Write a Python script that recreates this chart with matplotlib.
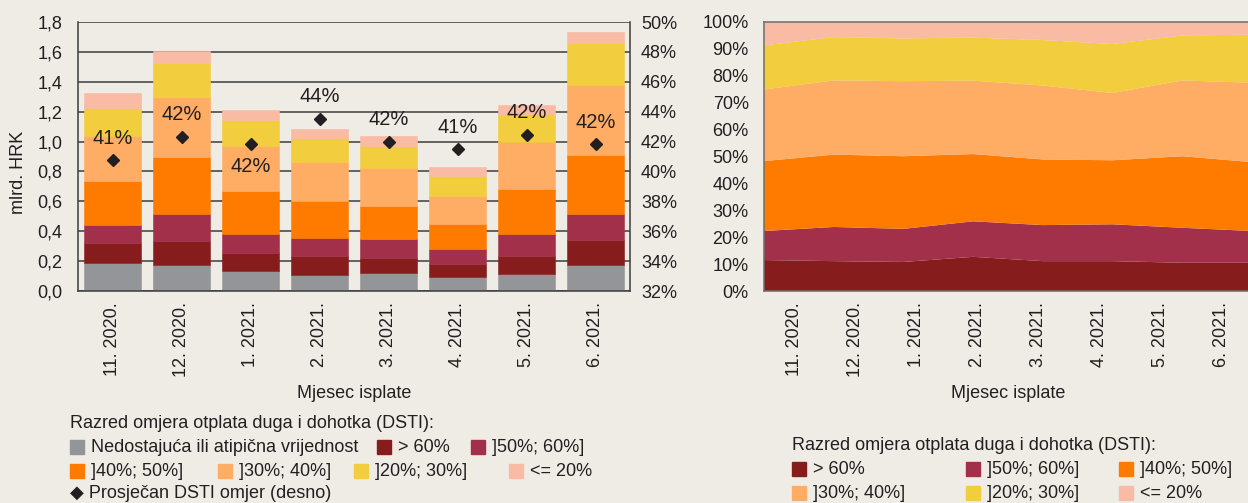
import numpy as np
import matplotlib
matplotlib.use('Agg')
import matplotlib.pyplot as plt
from matplotlib import font_manager
from matplotlib.patches import Rectangle

# pick a narrow font if one is installed
names = {f.name for f in font_manager.fontManager.ttflist}
main_font = 'Liberation Sans Narrow' if 'Liberation Sans Narrow' in names else 'Liberation Sans'
plt.rcParams['font.family'] = [main_font, 'DejaVu Sans']

BG = '#efece6'
TXT = '#231f20'
plt.rcParams['text.color'] = TXT
plt.rcParams['axes.labelcolor'] = TXT
plt.rcParams['xtick.color'] = TXT
plt.rcParams['ytick.color'] = TXT

months = ['11. 2020.', '12. 2020.', '1. 2021.', '2. 2021.',
          '3. 2021.', '4. 2021.', '5. 2021.', '6. 2021.']

# left chart: amounts in bn HRK by DSTI class
missing = [0.185, 0.171, 0.134, 0.105, 0.122, 0.096, 0.114, 0.174]
gt60 = [0.133, 0.161, 0.118, 0.127, 0.101, 0.082, 0.120, 0.165]
r50_60 = [0.121, 0.180, 0.131, 0.124, 0.124, 0.100, 0.145, 0.178]
r40_50 = [0.298, 0.386, 0.287, 0.245, 0.223, 0.172, 0.303, 0.396]
r30_40 = [0.301, 0.400, 0.301, 0.263, 0.250, 0.187, 0.318, 0.466]
r20_30 = [0.189, 0.230, 0.176, 0.163, 0.153, 0.134, 0.187, 0.280]
le20 = [0.100, 0.078, 0.062, 0.055, 0.063, 0.062, 0.060, 0.074]

# average DSTI (right axis, %)
avg_dsti = [40.75, 42.31, 41.82, 43.54, 41.98, 41.47, 42.47, 41.82]
dsti_labels = ['41%', '42%', '42%', '44%', '42%', '41%', '42%', '42%']

# right chart: shares in %
share_gt60 = [11.5, 11.1, 10.8, 12.7, 11.1, 11.1, 10.5, 10.5]
share_50_60 = [10.8, 12.7, 12.3, 13.2, 13.4, 13.7, 13.0, 11.8]
share_40_50 = [26.0, 26.9, 27.0, 25.0, 24.4, 23.8, 26.6, 25.6]
share_30_40 = [26.6, 27.6, 27.9, 27.3, 27.5, 25.0, 28.2, 29.5]
share_20_30 = [16.4, 16.1, 15.9, 16.0, 16.9, 18.2, 16.7, 17.9]
share_le20 = [8.7, 5.6, 6.1, 5.8, 6.7, 8.2, 5.0, 4.7]

labels = ['Nedostajuća ili atipična vrijednost', '> 60%', ']50%; 60%]',
          ']40%; 50%]', ']30%; 40%]', ']20%; 30%]', '<= 20%']
colors = ['#939598', '#861c1c', '#a3304a', '#ff7b00', '#ffad65', '#f2cd3e', '#f9bba3']

W, H = 1248, 503
FS = 13
fig = plt.figure(figsize=(W / 100, H / 100), dpi=100, facecolor=BG)


def ax_rect(left, top, right, bottom):
    return [left / W, 1 - bottom / H, (right - left) / W, (bottom - top) / H]


# ---------- left chart ----------
ax = fig.add_axes(ax_rect(78, 22, 630, 291), facecolor=BG)
x = np.arange(len(months))
bottom = np.zeros(len(months))
for vals, c in zip([missing, gt60, r50_60, r40_50, r30_40, r20_30, le20], colors):
    ax.bar(x, vals, 0.84, bottom=bottom, color=c, edgecolor=c, lw=0.4, zorder=2)
    bottom += np.array(vals)

ax.set_xlim(-0.5, 7.5)
ax.set_ylim(0, 1.8)
ax.set_yticks(np.arange(0, 1.81, 0.2))
ax.set_yticklabels([f'{v:.1f}'.replace('.', ',') for v in np.arange(0, 1.81, 0.2)])
ax.yaxis.grid(True, color='#3c3c3c', lw=1.1, zorder=1)
ax.set_axisbelow(True)
ax.set_xticks(x)
ax.set_xticklabels(months, rotation=90)
ax.tick_params(length=0, labelsize=FS, pad=8)
ax.tick_params(axis='y', pad=11)
ax.set_xlabel('Mjesec isplate', fontsize=FS, labelpad=6)
ax.set_ylabel('mlrd. HRK', fontsize=FS)
ax.yaxis.set_label_coords(-0.092, 0.44)
for s in ['left', 'bottom', 'right']:
    ax.spines[s].set_color('#3c3c3c')
    ax.spines[s].set_linewidth(1.1)
ax.spines['top'].set_visible(False)

ax2 = ax.twinx()
ax2.set_ylim(32, 50)
ax2.set_yticks(np.arange(32, 51, 2))
ax2.set_yticklabels([f'{v}%' for v in range(32, 51, 2)])
ax2.tick_params(length=0, labelsize=FS, pad=8)
for s in ax2.spines.values():
    s.set_visible(False)
ax2.plot(x, avg_dsti, linestyle='none', marker='D', ms=6.5, color='#231f20', zorder=5)
for i, (v, lab) in enumerate(zip(avg_dsti, dsti_labels)):
    off = -16 if i == 2 else 16
    ax2.annotate(lab, (i, v), xytext=(0, off), textcoords='offset points',
                 ha='center', va='center', fontsize=FS + 1.5)

# ---------- right chart ----------
axr = fig.add_axes(ax_rect(764, 22, 1252, 291), facecolor=BG)
xa = np.linspace(0, 8, len(months))
axr.stackplot(xa, share_gt60, share_50_60, share_40_50, share_30_40,
              share_20_30, share_le20, colors=colors[1:], lw=0)
axr.set_xlim(0, 8)
axr.set_ylim(0, 100)
axr.set_yticks(np.arange(0, 101, 10))
axr.set_yticklabels([f'{v}%' for v in range(0, 101, 10)])
axr.set_xticks(np.arange(len(months)) + 0.5)
axr.set_xticklabels(months, rotation=90)
axr.tick_params(length=0, labelsize=FS, pad=8)
axr.tick_params(axis='y', pad=11)
axr.set_xlabel('Mjesec isplate', fontsize=FS, labelpad=6)
for s in axr.spines.values():
    s.set_color('#6d6d6d')
    s.set_linewidth(1.1)


# ---------- legends (drawn by hand, reference has irregular columns) ----------
def leg_item(xp, yp, color, text):
    fig.patches.append(Rectangle((xp / W, 1 - (yp + 7) / H), 14 / W, 14 / H,
                                 transform=fig.transFigure, color=color))
    fig.text((xp + 21) / W, 1 - yp / H, text, va='center', fontsize=FS)


fig.text(70 / W, 1 - 424 / H, 'Razred omjera otplata duga i dohotka (DSTI):',
         va='center', fontsize=FS)
left_pos = [(70, 447), (377, 447), (471, 447), (70, 471), (218, 471), (354, 471), (509, 471)]
for (xp, yp), c, t in zip(left_pos, colors, labels):
    leg_item(xp, yp, c, t)
fig.text(70 / W, 1 - 493 / H, '◆ Prosječan DSTI omjer (desno)', va='center',
         fontsize=FS, family=[main_font, 'DejaVu Sans'])

fig.text(792 / W, 1 - 445 / H, 'Razred omjera otplata duga i dohotka (DSTI):',
         va='center', fontsize=FS)
right_pos = [(792, 469), (966, 469), (1119, 469), (792, 493), (966, 493), (1119, 493)]
for (xp, yp), c, t in zip(right_pos, colors[1:], labels[1:]):
    leg_item(xp, yp, c, t)

fig.savefig('out.png', dpi=100, facecolor=BG)
